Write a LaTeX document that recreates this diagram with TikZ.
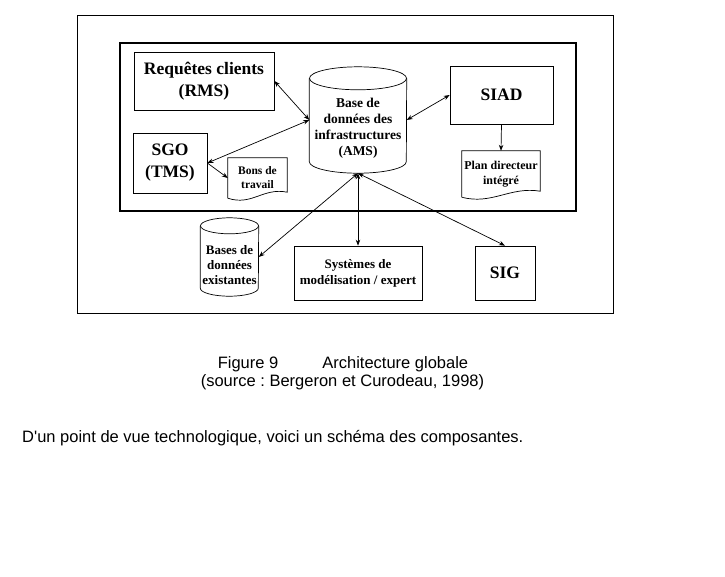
\documentclass[tikz,border=0pt]{standalone}
\usepackage{fontspec}
\setmainfont{Liberation Serif}
\newfontfamily\capfont{Liberation Sans}
\usetikzlibrary{calc,arrows.meta}

\begin{document}
\begin{tikzpicture}[x=1pt,y=-1pt,>={Stealth[length=6pt,width=4.5pt]},
    bigbox/.style={draw, line width=0.7pt, align=center, inner sep=0pt,
      font=\bfseries\fontsize{17.5}{22}\selectfont},
    midbox/.style={draw, line width=0.7pt, align=center, inner sep=0pt,
      font=\bfseries\fontsize{13}{16}\selectfont},
    dbase/.style={inner sep=0pt},
    docbox/.style={align=center, inner sep=0pt,
      font=\bfseries\fontsize{11.5}{14}\selectfont},
    captext/.style={font=\capfont\fontsize{16.5}{19}\selectfont\frenchspacing},
    link/.style={<->, line width=0.7pt}]
        \useasboundingbox (0,0) rectangle (725,576);
        % frames
        \draw[line width=0.7pt] (77,15) rectangle (613,313);
        \draw[line width=2.2pt] (120,43) rectangle (576,211);
        % boxes
        \node[bigbox, minimum width=140pt, minimum height=58pt] (rms) at (204,81) {Requêtes clients\\(RMS)};
        \node[bigbox, minimum width=74pt, minimum height=60pt] (sgo) at (170,163) {SGO\\(TMS)};
        \node[bigbox, minimum width=103pt, minimum height=58pt] (siad) at (501.5,95) {SIAD};
        \node[midbox, minimum width=128pt, minimum height=54pt] (sysmod) at (358,273) {Systèmes de\\modélisation / expert};
        \node[bigbox, minimum width=60pt, minimum height=54pt] (sig) at (505,273) {SIG};
        % databases
        \node[dbase, minimum width=97pt, minimum height=106pt,
          label={[align=center, yshift=-8.5pt, font=\bfseries\fontsize{13.5}{16}\selectfont]center:{Base de\\données des\\infrastructures\\(AMS)}}] (ams) at (358,120) {};
        \draw[line width=0.7pt] ([yshift=-11.5pt]ams.north west) -- ([yshift=11.5pt]ams.south west)
          arc[start angle=180, end angle=360, x radius=48.5pt, y radius=11.5pt] -- ([yshift=-11.5pt]ams.north east);
        \draw[line width=0.7pt] ([yshift=-11.5pt]ams.north) ellipse [x radius=48.5pt, y radius=11.5pt];
        \node[dbase, minimum width=58pt, minimum height=78pt,
          label={[align=center, yshift=-8pt, font=\bfseries\fontsize{13}{15}\selectfont]center:{Bases de\\données\\existantes}}] (bdex) at (229.5,257) {};
        \draw[line width=0.7pt] ([yshift=-8pt]bdex.north west) -- ([yshift=8pt]bdex.south west)
          arc[start angle=180, end angle=360, x radius=29pt, y radius=8pt] -- ([yshift=-8pt]bdex.north east);
        \draw[line width=0.7pt] ([yshift=-8pt]bdex.north) ellipse [x radius=29pt, y radius=8pt];
        % documents
        \node[docbox, minimum width=59pt, minimum height=40pt] (bons) at (257.5,178) {Bons de\\travail};
        \node[docbox, minimum width=78pt, minimum height=46pt, font=\bfseries\fontsize{12}{15}\selectfont] (plan) at (501,174) {Plan directeur\\intégré};
        \draw[line width=0.7pt] (bons.south west) -- (bons.north west) -- (bons.north east) -- ([yshift=6pt]bons.south east)
          .. controls +(-24pt,5pt) and +(24pt,-8pt) .. (bons.south west);
        \draw[line width=0.7pt] (plan.south west) -- (plan.north west) -- (plan.north east) -- ([yshift=6pt]plan.south east)
          .. controls +(-30pt,5pt) and +(30pt,-8pt) .. (plan.south west);
        % connectors
        \draw[link] (rms.east) -- (ams.west);
        \draw[link] (sgo.east) -- (ams.west);
        \draw[->, line width=0.7pt] (sgo.east) -- (bons.west);
        \draw[link] (ams.east) -- (siad.west);
        \draw[->, line width=0.7pt] (siad.south) -- (plan.north);
        \draw[link] (ams.south) -- (bdex.east);
        \draw[link] (ams.south) -- (sysmod.north);
        \draw[link] (ams.south) -- (sig.north);
        % captions
        \node[captext, anchor=base] (cap1) at (343,368) {Figure 9\hspace{44pt}Architecture globale};
        \node[captext, anchor=base] (cap2) at (342.5,386) {(source : Bergeron et Curodeau, 1998)};
        \node[captext, anchor=base west, inner sep=0pt] (txt) at (22,442) {D'un point de vue technologique, voici un schéma des composantes.};
    \end{tikzpicture}
\end{document}
